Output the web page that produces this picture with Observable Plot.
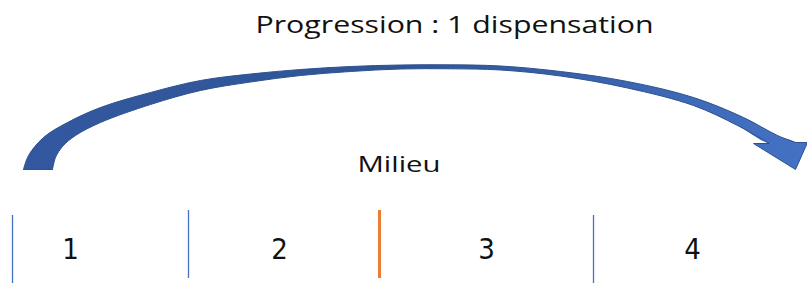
<!DOCTYPE html>
<html><head><meta charset="utf-8">
<script src="https://cdn.jsdelivr.net/npm/d3@7"></script>
<script src="https://cdn.jsdelivr.net/npm/@observablehq/plot@0.6"></script>
<style>html,body{margin:0;padding:0;background:#fff;}svg{display:block;}</style>
</head><body><div id="chart"></div>
<script>
// Texts
const titleText = "Progression : 1 dispensation";
const middleText = "Milieu";
const categories = ["1", "2", "3", "4"];
const categoryCenters = [70, 279, 486, 692];

// Separators
const separatorX = [12, 188, 379, 593];
const separatorTop = [215, 210, 210, 215];
const separatorBottom = [283, 278, 278, 283];
const separatorKind = ["edge", "edge", "middle", "edge"];

// Curved arrow outline
const outerX = [23, 28, 43, 67, 100, 150, 200, 250, 300, 350, 400, 450, 500, 560, 627, 693, 743, 777, 795];
const outerY = [169, 155, 137, 122, 107, 92, 80, 73.5, 69, 66, 64.5, 64.3, 65.5, 71, 81, 97, 117, 135, 142];
const innerX = [52, 55, 62, 75, 100, 150, 200, 250, 300, 350, 400, 450, 500, 560, 627, 693, 737, 769];
const innerY = [169, 157, 146, 135, 122, 104, 90, 81.5, 75, 71, 68.5, 68.3, 69.5, 75.5, 87.5, 105, 125, 143];
const headX = [795, 807, 795, 753, 769];
const headY = [142, 142, 169, 143, 143];

const shaft = [
  ...outerX.map((x, i) => ({x, y: outerY[i]})),
  ...innerX.map((x, i) => ({x, y: innerY[i]})).reverse()
];
const outerLine = outerX.map((x, i) => ({x, y: outerY[i]}));
const innerLine = innerX.map((x, i) => ({x, y: innerY[i]}));
const baseLine = [{x: outerX[0], y: outerY[0]}, {x: innerX[0], y: innerY[0]}];
const head = headX.map((x, i) => ({x, y: headY[i]}));

const seps = separatorX.map((x, i) => ({x, y1: separatorTop[i], y2: separatorBottom[i], kind: separatorKind[i]}));
const cats = categories.map((c, i) => ({x: categoryCenters[i], y: 258, t: c}));

const fillG = "url(#arrowGrad)";
const strokeC = "#2f528f";
const textFont = "'Open Sans', Lato, sans-serif";

const chart = Plot.plot({
  width: 807, height: 283,
  marginTop: 0, marginRight: 0, marginBottom: 0, marginLeft: 0,
  x: {domain: [0, 807], range: [0, 807], axis: null},
  y: {domain: [0, 283], range: [0, 283], axis: null},
  marks: [
    Plot.line(shaft, {x: "x", y: "y", curve: "catmull-rom", fill: fillG, stroke: "none"}),
    Plot.line(head, {x: "x", y: "y", curve: "linear", fill: fillG, stroke: "none"}),
    Plot.line(outerLine, {x: "x", y: "y", curve: "catmull-rom", stroke: strokeC, strokeWidth: 1}),
    Plot.line(innerLine, {x: "x", y: "y", curve: "catmull-rom", stroke: strokeC, strokeWidth: 1}),
    Plot.line(baseLine, {x: "x", y: "y", stroke: strokeC, strokeWidth: 1}),
    Plot.line(head, {x: "x", y: "y", curve: "linear", stroke: strokeC, strokeWidth: 1, strokeLinejoin: "miter"}),
    Plot.ruleX(seps.filter(d => d.kind === "edge"), {x: "x", y1: "y1", y2: "y2", stroke: "#4472c4", strokeWidth: 1.3}),
    Plot.ruleX(seps.filter(d => d.kind === "middle"), {x: "x", y1: "y1", y2: "y2", stroke: "#ed7d31", strokeWidth: 3}),
    Plot.text([titleText], {x: () => 454, y: () => 32, text: d => d, fontSize: 23, fontFamily: textFont, fill: "#111", textAnchor: "middle", lineAnchor: "bottom"}),
    Plot.text([middleText], {x: () => 398.5, y: () => 171, text: d => d, fontSize: 22, fontFamily: textFont, fill: "#111", textAnchor: "middle", lineAnchor: "bottom"}),
    Plot.text(cats, {x: "x", y: "y", text: "t", fontSize: 29, fontFamily: "'Liberation Sans Narrow', 'DejaVu Sans Condensed', sans-serif", fontStretch: "condensed", fill: "#111", textAnchor: "middle", lineAnchor: "bottom"})
  ]
});

const svg = d3.select(chart);
const defs = svg.insert("defs", ":first-child");
const g = defs.append("linearGradient").attr("id", "arrowGrad")
  .attr("gradientUnits", "userSpaceOnUse").attr("x1", 0).attr("y1", 0).attr("x2", 807).attr("y2", 0);
g.append("stop").attr("offset", "0").attr("stop-color", "#3358a0");
g.append("stop").attr("offset", "0.5").attr("stop-color", "#2f5597");
g.append("stop").attr("offset", "1").attr("stop-color", "#4472c4");
const lengths = {[titleText]: 398, [middleText]: 83};
svg.selectAll("text").each(function() {
  const L = lengths[this.textContent];
  if (L) d3.select(this).attr("textLength", L).attr("lengthAdjust", "spacingAndGlyphs");
});
document.getElementById("chart").appendChild(chart);
</script>
</body></html>
